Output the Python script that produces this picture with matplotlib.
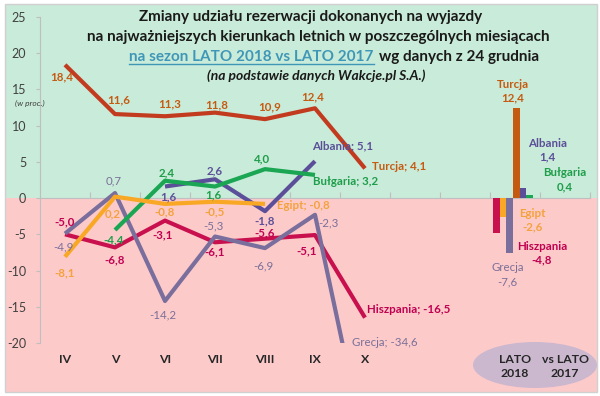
import numpy as np
import matplotlib.pyplot as plt
import matplotlib.patches as mpatches
from matplotlib.lines import Line2D

plt.rcParams['font.family'] = ['Lato', 'DejaVu Sans']
plt.rcParams['axes.unicode_minus'] = False

# data
months = ['IV', 'V', 'VI', 'VII', 'VIII', 'IX', 'X']
cat_labels = months + ['', '', 'LATO\n2018', 'vs LATO\n2017']
nan = np.nan
turcja = [18.4, 11.6, 11.3, 11.8, 10.9, 12.4, 4.1]
hiszpania = [-5.0, -6.8, -3.1, -6.1, -5.6, -5.1, -16.5]
grecja = [-4.9, 0.7, -14.2, -5.3, -6.9, -2.3, -34.6]
albania = [nan, nan, 1.6, 2.6, -1.8, 5.1, nan]
bulgaria = [nan, -4.4, 2.4, 1.6, 4.0, 3.2, nan]
egipt = [-8.1, 0.2, -0.8, -0.5, -0.8, nan, nan]

bar_names = ['Hiszpania', 'Egipt', 'Grecja', 'Turcja', 'Albania', 'Bułgaria']
bar_vals = [-4.8, -2.6, -7.6, 12.4, 1.4, 0.4]

colors = {'Turcja': '#c23b1f', 'Hiszpania': '#c8104e', 'Grecja': '#7a6e9c',
          'Albania': '#5b4f99', 'Bułgaria': '#1aa653', 'Egipt': '#f9a825'}
label_colors = {'Turcja': '#c55a11', 'Hiszpania': '#c00050', 'Grecja': '#7a7099',
                'Albania': '#5b4f99', 'Bułgaria': '#1e9e4a', 'Egipt': '#f4a23c'}
bar_colors = dict(colors, Turcja='#c55a11')

# label offsets in pixels (None = end label)
series = [
    ('Turcja', turcja, [(-3, -12), (4, 14), (5, 12), (2, 8), (5, 12), (-2, 11), None]),
    ('Hiszpania', hiszpania, [(0, 12), (0, -12), (-2, -14), (0, -10), (0, 6), (-8, -16), None]),
    ('Grecja', grecja, [(-2, -13), (-1, 12), (-2, -14), (-2, 11), (-2, -18), (13, -8), 'skip']),
    ('Albania', albania, [None, None, (3, -10), (0, 8), (0, -10), None, None]),
    ('Bułgaria', bulgaria, [None, (-1, -10), (2, 8), (-2, -8), (-3, 10), None, None]),
    ('Egipt', egipt, [(0, -16), (-2, -17), (0, -8), (0, -10), None, None, None]),
]
end_offsets = {'Turcja': (7, 2), 'Hiszpania': (2, 8), 'Albania': (-3, 15),
               'Bułgaria': (-2, -7), 'Egipt': (12, -2)}

LBL = 8.3


def fmt(v):
    return f'{v:.1f}'.replace('.', ',')


W, H = 600, 396
fig = plt.figure(figsize=(6, 3.96), dpi=100)
fig.patch.set_facecolor('white')

ymin, ymax = -20, 25
ax_l, ax_b, ax_w, ax_h = 40 / W, 1 - 343 / H, 550 / W, (343 - 17) / H
ax = fig.add_axes([ax_l, ax_b, ax_w, ax_h])
ax.set_facecolor('none')
ax.set_xlim(-0.5, 10.5)
ax.set_ylim(ymin, ymax)

# background: green above zero, pink below
fx0, fx1 = 5 / W, 597 / W
fy0, fy1 = 1 - 392 / H, 1 - 4 / H
zero_f = ax_b + ax_h * (0 - ymin) / (ymax - ymin)
fig.add_artist(mpatches.Rectangle((fx0, fy0), fx1 - fx0, zero_f - fy0, transform=fig.transFigure,
                                  fc='#fdcaca', ec='none', zorder=-3))
fig.add_artist(mpatches.Rectangle((fx0, zero_f), fx1 - fx0, fy1 - zero_f, transform=fig.transFigure,
                                  fc='#c9ebd9', ec='none', zorder=-3))
fig.add_artist(mpatches.Rectangle((fx0, fy0), fx1 - fx0, fy1 - fy0, transform=fig.transFigure,
                                  fc='none', ec='#d0d0d0', lw=1, zorder=-2))
ax.add_patch(mpatches.Ellipse((535 / W, 1 - 365 / H), 124 / W, 46 / H, transform=fig.transFigure,
                              fc='#cbb8cf', ec='none', clip_on=False, zorder=0.5))

x = np.arange(len(months))
for name, vals, offs in series:
    ax.plot(x, vals, color=colors[name], lw=3, solid_capstyle='butt', zorder=3)
    weight = 'normal' if name == 'Grecja' else 'bold'
    for i, v in enumerate(vals):
        if np.isnan(v):
            continue
        off = offs[i]
        if off == 'skip':
            continue
        if off is None:
            dx, dy = end_offsets[name]
            ax.annotate(f'{name}; {fmt(v)}', (i, v), xytext=(dx, dy), textcoords='offset pixels',
                        ha='left', va='center', fontsize=LBL, fontweight='bold',
                        color=label_colors[name], zorder=5)
        else:
            ax.annotate(fmt(v), (i, v), xytext=off, textcoords='offset pixels',
                        ha='center', va='center', fontsize=LBL, fontweight=weight,
                        color=label_colors[name], zorder=5)

ax.text(5.74, -20, f'Grecja; {fmt(grecja[-1])}', ha='left', va='center', fontsize=LBL,
        color=label_colors['Grecja'], clip_on=False)

# bars for the whole season
bw = 0.134
bar_offsets = [(45.5, -20), (29.5, -3), (-2, -21.5), (-3.5, 17), (24.5, 38), (35, 15.5)]
for i, (name, v) in enumerate(zip(bar_names, bar_vals)):
    bx = 9 + (i - 2.5) * bw - 0.04
    ax.bar(bx, v, width=bw, color=bar_colors[name], zorder=3)
    ax.annotate(f'{name}\n{fmt(v)}', (bx, v), xytext=bar_offsets[i], textcoords='offset pixels',
                ha='center', va='center', fontsize=LBL,
                fontweight='normal' if name == 'Grecja' else 'bold',
                color=label_colors[name], linespacing=1.3, zorder=5)

# axes styling
for s in ['top', 'right']:
    ax.spines[s].set_visible(False)
ax.spines['left'].set_color('#bfbfbf')
ax.spines['bottom'].set_color('#bfbfbf')
ax.spines['bottom'].set_position(('data', 0))
ax.set_xticks(np.arange(0.5, 10.6, 1))
ax.tick_params(axis='x', direction='in', length=4, color='#bfbfbf', labelbottom=False)
ax.set_yticks(range(-20, 26, 5))
ax.tick_params(axis='y', length=3, pad=7, color='#bfbfbf', labelsize=9, labelcolor='#404040')

for i, lab in enumerate(cat_labels):
    ax.text(i, -0.035, lab, transform=ax.get_xaxis_transform(), ha='center', va='top',
            fontsize=8.8, fontweight='bold', color='#262626', linespacing=1.25)

fig.text(30 / W, 1 - 103 / H, '(w proc.)', ha='center', va='center', fontsize=6,
         style='italic', color='#404040')

# title
tc = '#1a1a1a'
TS = 11
fig.text(311 / W, 1 - 17 / H, 'Zmiany udziału rezerwacji dokonanych na wyjazdy', ha='center',
         va='center', fontsize=TS, fontweight='bold', color=tc)
fig.text(318 / W, 1 - 37 / H, 'na najważniejszych kierunkach letnich w poszczególnych miesiącach',
         ha='center', va='center', fontsize=TS, fontweight='bold', color=tc)
fig.text(316 / W, 1 - 76 / H, '(na podstawie danych Wakcje.pl S.A.)', ha='center', va='center',
         fontsize=10, fontweight='bold', style='italic', color=tc)

t3a = fig.text(0, 1 - 57 / H, 'na sezon LATO 2018 vs LATO 2017', ha='left', va='center',
               fontsize=TS, fontweight='bold', color='#3f97b8')
t3b = fig.text(0, 1 - 57 / H, 'wg danych z 24 grudnia', ha='left', va='center',
               fontsize=TS, fontweight='bold', color=tc)
fig.canvas.draw()
r = fig.canvas.get_renderer()
wa = t3a.get_window_extent(r).width
wb = t3b.get_window_extent(r).width
x0 = 334 - (wa + 5 + wb) / 2
t3a.set_x(x0 / W)
t3b.set_x((x0 + wa + 5) / W)
uy = 1 - 64 / H
fig.add_artist(Line2D([x0 / W, (x0 + wa) / W], [uy, uy], transform=fig.transFigure,
                      color='#3f97b8', lw=1))

fig.savefig('out.png', dpi=100)
